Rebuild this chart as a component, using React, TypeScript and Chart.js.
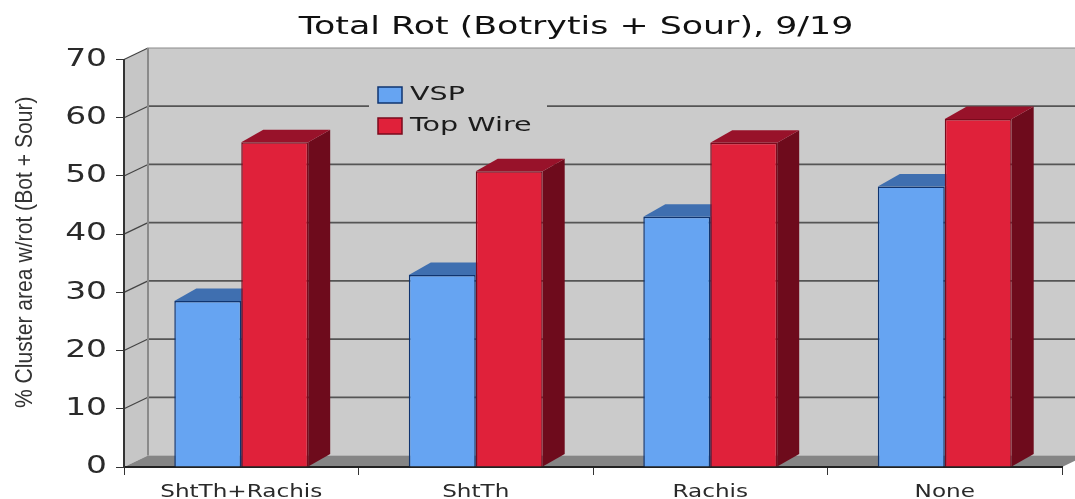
import React, { useEffect, useRef } from "react";
import { Chart, registerables } from "chart.js";

Chart.register(...registerables);

const categories = ["ShtTh+Rachis", "ShtTh", "Rachis", "None"];
const vspValues = [28.5, 33, 43, 48.2];
const topWireValues = [55.8, 50.8, 55.7, 59.8];
const yTicksMax = 70;
const titleText = "Total Rot (Botrytis + Sour), 9/19";
const yTitleText = "% Cluster area w/rot (Bot + Sour)";

const WALL_DX = 24;
const WALL_DY = 11.5;
const BAR_DX = 22;
const BAR_DY = 12.5;
const FONT = "'DejaVu Sans', sans-serif";

// The reference's text is stretched sideways; this draws a box's text with that stretch.
function stretched(obj: any, key: string, ctx: any, sx: number, shift = 0) {
  const orig = obj[key];
  obj[key] = function (...args: any[]) {
    const nativeFill = ctx.fillText;
    ctx.fillText = function (s: string, x: number, y: number) {
      ctx.save();
      ctx.translate(x + shift, y);
      ctx.scale(sx, 1);
      nativeFill.call(ctx, s, 0, 0);
      ctx.restore();
    };
    orig.apply(this, args);
    delete ctx.fillText;
  };
}

const poly = (ctx: any, pts: number[][], fill: string) => {
  ctx.beginPath();
  pts.forEach((p, i) => (i ? ctx.lineTo(p[0], p[1]) : ctx.moveTo(p[0], p[1])));
  ctx.closePath();
  ctx.fillStyle = fill;
  ctx.fill();
};

const scene = {
  id: "scene",
  afterLayout(chart: any) {
    const t = chart.titleBlock;
    t.left = 0;
    t.right = 1152;
    const l = chart.legend;
    const w = l.right - l.left;
    const h = l.bottom - l.top;
    l.left = 367;
    l.right = 367 + w;
    l.top = 74;
    l.bottom = 74 + h;
  },
  beforeDraw(chart: any) {
    const { ctx, chartArea: a, scales } = chart;
    if (!chart.$stretched) {
      chart.$stretched = true;
      stretched(chart.titleBlock, "draw", ctx, 1.45);
      stretched(chart.legend, "draw", ctx, 1.43, -2);
      stretched(scales.x, "drawLabels", ctx, 1.36);
      stretched(scales.y, "drawLabels", ctx, 1.37);
      stretched(scales.y, "drawTitle", ctx, 0.88, 11);
    }
    const y = scales.y;
    const y0 = y.getPixelForValue(0);
    const yTop = y.getPixelForValue(yTicksMax);
    const bx = a.left + WALL_DX;
    const rx = a.right + WALL_DX;
    ctx.save();
    poly(ctx, [[bx, yTop - WALL_DY], [rx, yTop - WALL_DY], [rx, y0 - WALL_DY], [bx, y0 - WALL_DY]], "#cbcbcb");
    poly(ctx, [[a.left, yTop], [bx, yTop - WALL_DY], [bx, y0 - WALL_DY], [a.left, y0]], "#c6c6c6");
    poly(ctx, [[a.left, y0], [bx, y0 - WALL_DY], [rx, y0 - WALL_DY], [a.right, y0]], "#858585");
    y.ticks.forEach((t: any) => {
      const py = y.getPixelForValue(t.value);
      ctx.beginPath();
      if (t.value > 0) {
        ctx.moveTo(bx, py - WALL_DY);
        ctx.lineTo(rx, py - WALL_DY);
        ctx.strokeStyle = t.value === yTicksMax ? "#8c8c8c" : "#555";
        ctx.lineWidth = t.value === yTicksMax ? 1.2 : 1.8;
        ctx.stroke();
        ctx.beginPath();
        ctx.moveTo(a.left, py);
        ctx.lineTo(bx, py - WALL_DY);
        ctx.strokeStyle = "#444";
        ctx.lineWidth = 1.2;
        ctx.stroke();
      }
    });
    ctx.beginPath();
    ctx.moveTo(bx, yTop - WALL_DY);
    ctx.lineTo(bx, y0 - WALL_DY);
    ctx.strokeStyle = "#8a8a8a";
    ctx.lineWidth = 2;
    ctx.stroke();
    ctx.fillStyle = "#cbcbcb";
    ctx.fillRect(chart.legend.left + 2, 98, 178, 16);
    ctx.restore();
  },
  beforeDatasetsDraw(chart: any) {
    const { ctx } = chart;
    const faces = [
      { top: "#3f6fb0", side: "#2b548f" },
      { top: "#98122a", side: "#6e0b1c" },
    ];
    ctx.save();
    [0, 1].forEach((d) => {
      chart.getDatasetMeta(d).data.forEach((bar: any) => {
        const l = bar.x - bar.width / 2;
        const r = bar.x + bar.width / 2;
        poly(ctx, [[r, bar.y], [r + BAR_DX, bar.y - BAR_DY], [r + BAR_DX, bar.base - BAR_DY], [r, bar.base]], faces[d].side);
        poly(ctx, [[l, bar.y], [l + BAR_DX, bar.y - BAR_DY], [r + BAR_DX, bar.y - BAR_DY], [r, bar.y]], faces[d].top);
      });
    });
    ctx.restore();
  },
};

export default function App() {
  const ref = useRef<HTMLCanvasElement>(null);
  useEffect(() => {
    const chart = new Chart(ref.current as HTMLCanvasElement, {
      type: "bar",
      data: {
        labels: categories,
        datasets: [
          { label: "VSP", data: vspValues, backgroundColor: "#66a4f2", borderColor: "#0f3470", borderWidth: 1.5 },
          { label: "Top Wire", data: topWireValues, backgroundColor: "#e0213a", borderColor: "#7a0a1c", borderWidth: 1.5 },
        ],
      },
      options: {
        responsive: false,
        animation: false,
        layout: { padding: { top: 0, right: 13, left: 0, bottom: 0 } },
        datasets: { bar: { categoryPercentage: 0.571, barPercentage: 1 } },
        plugins: {
          tooltip: { enabled: false },
          title: {
            display: true,
            text: titleText,
            color: "#111",
            font: { family: FONT, size: 24, weight: "normal", lineHeight: 1.1 },
            padding: { top: 15, bottom: 18.1 },
          },
          legend: {
            position: "chartArea",
            fullSize: false,
            align: "start",
            labels: {
              boxWidth: 24,
              boxHeight: 16,
              padding: 11,
              color: "#1c1c1c",
              font: { family: FONT, size: 20 },
            },
          },
        },
        scales: {
          x: {
            afterFit: (s: any) => { s.height = 32; },
            grid: { display: true, drawOnChartArea: false, drawTicks: true, tickLength: 8, color: "#333" },
            border: { display: true, color: "#222", width: 2 },
            ticks: { color: "#2a2a2a", padding: 7, maxRotation: 0, font: { family: FONT, size: 17 } },
          },
          y: {
            min: 0,
            max: yTicksMax,
            afterFit: (s: any) => { s.width = 124; },
            grid: { display: true, drawOnChartArea: false, drawTicks: true, tickLength: 8, color: "#333" },
            border: { display: true, color: "#333", width: 2 },
            ticks: { stepSize: 10, color: "#2a2a2a", padding: 9, font: { family: FONT, size: 24 } },
            title: {
              display: true,
              text: yTitleText,
              color: "#333",
              padding: { top: 11, bottom: 0 },
              font: { family: "'Liberation Sans', sans-serif", size: 24 },
            },
          },
        },
      },
      plugins: [scene],
    } as any);
    return () => chart.destroy();
  }, []);
  return (
    <div style={{ position: "absolute", left: 0, top: 0, width: 1075, height: 499, overflow: "hidden" }}>
      <canvas ref={ref} width={1075} height={499} style={{ display: "block", filter: "blur(0.5px)" }} />
    </div>
  );
}
